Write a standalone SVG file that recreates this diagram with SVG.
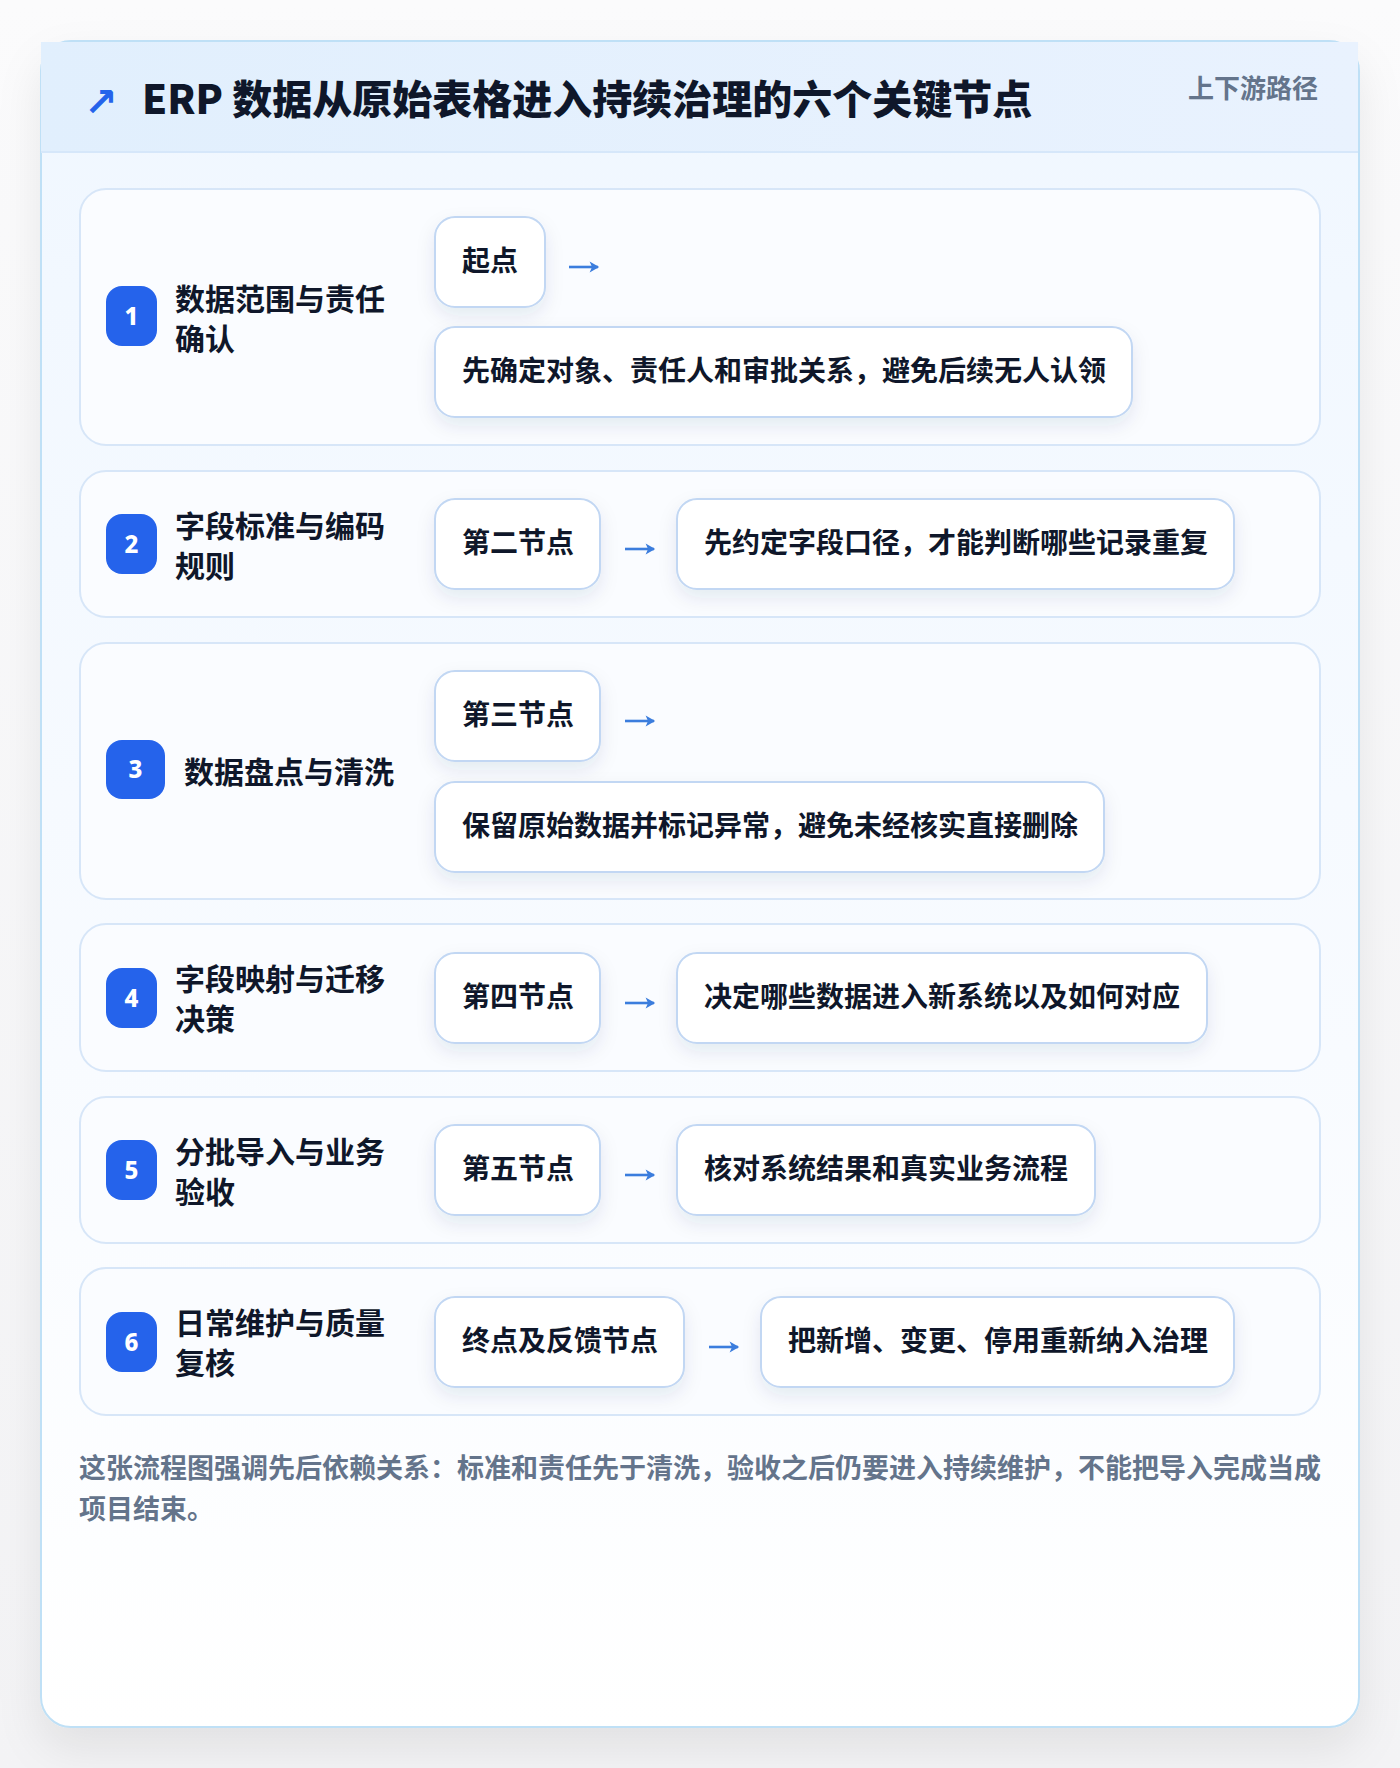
<svg xmlns="http://www.w3.org/2000/svg" width="1400" height="1768" viewBox="0 0 1400 1768">
  <defs>
    <linearGradient id="pageBg" x1="0" y1="0" x2="0" y2="1">
      <stop offset="0" stop-color="#fbfbfc"/>
      <stop offset="1" stop-color="#f3f3f5"/>
    </linearGradient>
    <linearGradient id="cardBg" x1="0" y1="0" x2="0" y2="1">
      <stop offset="0" stop-color="#f0f7ff"/>
      <stop offset="0.6" stop-color="#f8fbff"/>
      <stop offset="1" stop-color="#ffffff"/>
    </linearGradient>
    <linearGradient id="headBg" x1="0" y1="0" x2="1" y2="0">
      <stop offset="0" stop-color="#e1effd"/>
      <stop offset="1" stop-color="#e9f2fe"/>
    </linearGradient>
    <filter id="cardShadow" x="-10%" y="-10%" width="120%" height="125%">
      <feDropShadow dx="0" dy="20" stdDeviation="22" flood-color="#0f172a" flood-opacity="0.08"/>
    </filter>
    <filter id="boxShadow" x="-20%" y="-30%" width="140%" height="180%">
      <feDropShadow dx="0" dy="8" stdDeviation="9" flood-color="#1e3a66" flood-opacity="0.09"/>
    </filter>
    <marker id="arrowHead" viewBox="0 0 10 10" refX="8" refY="5" markerWidth="4.6" markerHeight="4.6" orient="auto" markerUnits="strokeWidth">
      <path d="M1 0.5 L9 5 L1 9.5 L3 5 Z" fill="#3b7ddd"/>
    </marker>
    <style>
      .cjk { font-family: "Noto Sans CJK SC", "Noto Sans", "Liberation Sans", sans-serif; }
      .row { fill: #fafcff; stroke: #d7e6f8; stroke-width: 2; }
      .box { fill: #ffffff; stroke: #c2d7f3; stroke-width: 2; filter: url(#boxShadow); }
      .badge { fill: #2563eb; }
      .num { font-family: "Noto Sans", "Liberation Sans", sans-serif; font-size: 24px; font-weight: 800; fill: #ffffff; text-anchor: middle; }
      .label { font-size: 30px; font-weight: 700; fill: #0f172a; }
      .node { font-size: 28px; font-weight: 700; fill: #0f172a; }
      .conn { stroke: #3b7ddd; stroke-width: 2.6; fill: none; marker-end: url(#arrowHead); }
    </style>
  </defs>

  <rect x="0" y="0" width="1400" height="1768" fill="url(#pageBg)"/>

  <g id="card">
    <rect x="41" y="41" width="1318" height="1686" rx="30" fill="url(#cardBg)" stroke="#bfe0f6" stroke-width="2" filter="url(#cardShadow)"/>
    <rect x="41" y="42" width="1317" height="110" fill="url(#headBg)"/>
    <line x1="41" y1="152" x2="1358" y2="152" stroke="#d6e7fa" stroke-width="2"/>
  </g>

  <g id="header">
    <text x="84" y="116" font-family="DejaVu Sans, sans-serif" font-size="40" font-weight="700" fill="#2563eb">↗</text>
    <text class="cjk" x="142" y="114" font-size="40" font-weight="900" fill="#0f172a">ERP 数据从原始表格进入持续治理的六个关键节点</text>
    <text class="cjk" x="1318" y="98" font-size="26" font-weight="700" fill="#64748b" text-anchor="end">上下游路径</text>
  </g>

  <g id="step1">
    <rect class="row" x="80" y="189" width="1240" height="256" rx="26"/>
    <rect class="badge" x="106" y="286" width="51" height="60" rx="16"/>
    <text class="num" x="131.5" y="325">1</text>
    <text class="cjk label" x="175" y="310">数据范围与责任</text>
    <text class="cjk label" x="175" y="350">确认</text>
    <g id="step1-node">
      <rect class="box" x="435" y="217" width="110" height="90" rx="20"/>
      <text class="cjk node" x="462" y="271">起点</text>
    </g>
    <g id="step1-desc">
      <rect class="box" x="435" y="327" width="697" height="90" rx="20"/>
      <text class="cjk node" x="462" y="381">先确定对象、责任人和审批关系，避免后续无人认领</text>
    </g>
  </g>

  <g id="step2">
    <rect class="row" x="80" y="471" width="1240" height="146" rx="26"/>
    <rect class="badge" x="106" y="514" width="51" height="60" rx="16"/>
    <text class="num" x="131.5" y="553">2</text>
    <text class="cjk label" x="175" y="537">字段标准与编码</text>
    <text class="cjk label" x="175" y="577">规则</text>
    <g id="step2-node">
      <rect class="box" x="435" y="499" width="165" height="90" rx="20"/>
      <text class="cjk node" x="462" y="553">第二节点</text>
    </g>
    <g id="step2-desc">
      <rect class="box" x="677" y="499" width="557" height="90" rx="20"/>
      <text class="cjk node" x="704" y="553">先约定字段口径，才能判断哪些记录重复</text>
    </g>
  </g>

  <g id="step3">
    <rect class="row" x="80" y="643" width="1240" height="256" rx="26"/>
    <rect class="badge" x="106" y="740" width="59" height="59" rx="16"/>
    <text class="num" x="135.5" y="778">3</text>
    <text class="cjk label" x="184" y="783">数据盘点与清洗</text>
    <g id="step3-node">
      <rect class="box" x="435" y="671" width="165" height="90" rx="20"/>
      <text class="cjk node" x="462" y="725">第三节点</text>
    </g>
    <g id="step3-desc">
      <rect class="box" x="435" y="782" width="669" height="90" rx="20"/>
      <text class="cjk node" x="462" y="836">保留原始数据并标记异常，避免未经核实直接删除</text>
    </g>
  </g>

  <g id="step4">
    <rect class="row" x="80" y="924" width="1240" height="147" rx="26"/>
    <rect class="badge" x="106" y="968" width="51" height="60" rx="16"/>
    <text class="num" x="131.5" y="1007">4</text>
    <text class="cjk label" x="175" y="990">字段映射与迁移</text>
    <text class="cjk label" x="175" y="1030">决策</text>
    <g id="step4-node">
      <rect class="box" x="435" y="953" width="165" height="90" rx="20"/>
      <text class="cjk node" x="462" y="1007">第四节点</text>
    </g>
    <g id="step4-desc">
      <rect class="box" x="677" y="953" width="530" height="90" rx="20"/>
      <text class="cjk node" x="704" y="1007">决定哪些数据进入新系统以及如何对应</text>
    </g>
  </g>

  <g id="step5">
    <rect class="row" x="80" y="1097" width="1240" height="146" rx="26"/>
    <rect class="badge" x="106" y="1140" width="51" height="60" rx="16"/>
    <text class="num" x="131.5" y="1179">5</text>
    <text class="cjk label" x="175" y="1163">分批导入与业务</text>
    <text class="cjk label" x="175" y="1203">验收</text>
    <g id="step5-node">
      <rect class="box" x="435" y="1125" width="165" height="90" rx="20"/>
      <text class="cjk node" x="462" y="1179">第五节点</text>
    </g>
    <g id="step5-desc">
      <rect class="box" x="677" y="1125" width="418" height="90" rx="20"/>
      <text class="cjk node" x="704" y="1179">核对系统结果和真实业务流程</text>
    </g>
  </g>

  <g id="step6">
    <rect class="row" x="80" y="1268" width="1240" height="147" rx="26"/>
    <rect class="badge" x="106" y="1312" width="51" height="60" rx="16"/>
    <text class="num" x="131.5" y="1351">6</text>
    <text class="cjk label" x="175" y="1334">日常维护与质量</text>
    <text class="cjk label" x="175" y="1374">复核</text>
    <g id="step6-node">
      <rect class="box" x="435" y="1297" width="249" height="90" rx="20"/>
      <text class="cjk node" x="462" y="1351">终点及反馈节点</text>
    </g>
    <g id="step6-desc">
      <rect class="box" x="761" y="1297" width="473" height="90" rx="20"/>
      <text class="cjk node" x="788" y="1351">把新增、变更、停用重新纳入治理</text>
    </g>
  </g>

  <g id="connectors">
    <path class="conn" d="M569 267 H598"/>
    <path class="conn" d="M625 549 H654"/>
    <path class="conn" d="M625 721 H654"/>
    <path class="conn" d="M625 1003 H654"/>
    <path class="conn" d="M625 1175 H654"/>
    <path class="conn" d="M709 1347 H738"/>
  </g>

  <g id="footer">
    <text class="cjk" x="79" y="1478" font-size="27" font-weight="700" fill="#64748b">这张流程图强调先后依赖关系：标准和责任先于清洗，验收之后仍要进入持续维护，不能把导入完成当成</text>
    <text class="cjk" x="79" y="1519" font-size="27" font-weight="700" fill="#64748b">项目结束。</text>
  </g>
</svg>
